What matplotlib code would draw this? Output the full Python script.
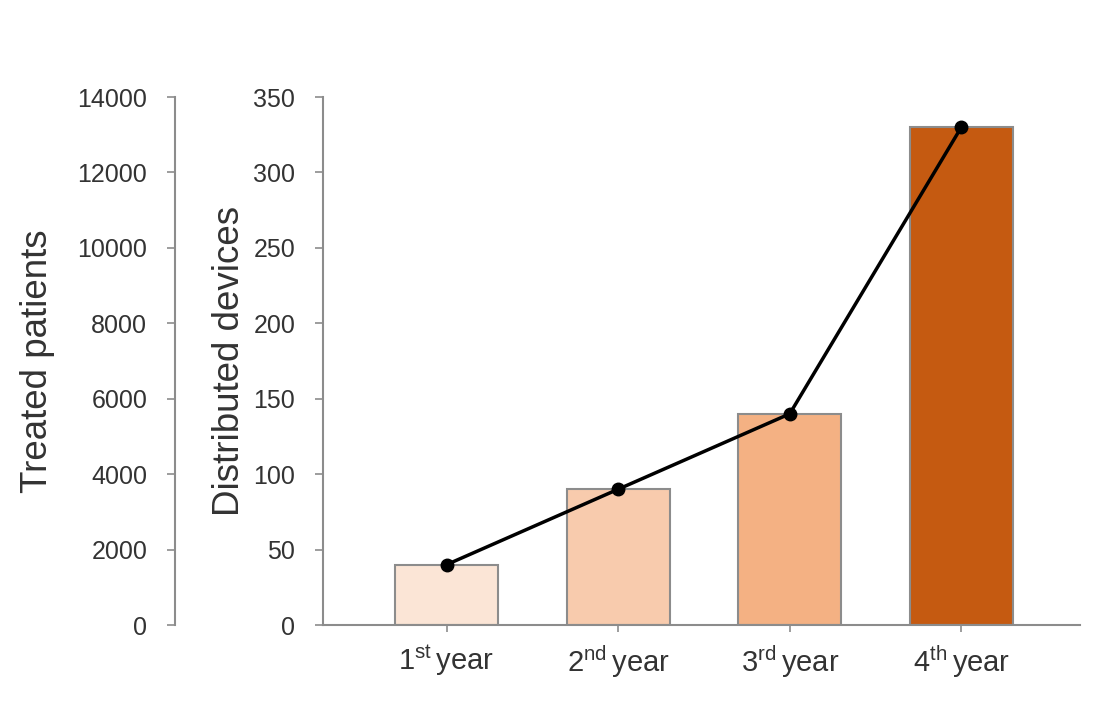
import matplotlib.pyplot as plt
import numpy as np

plt.rcParams['font.family'] = ['Liberation Sans', 'DejaVu Sans']
plt.rcParams['mathtext.fontset'] = 'custom'
plt.rcParams['mathtext.rm'] = 'Liberation Sans'

# data
years = [r'1$^{\mathrm{st}}\,$year', r'2$^{\mathrm{nd}}\,$year',
         r'3$^{\mathrm{rd}}\,$year', r'4$^{\mathrm{th}}\,$year']
devices = [40, 90, 140, 330]
patients = [1600, 3600, 5600, 13200]
bar_colors = ['#FBE5D6', '#F8CBAD', '#F4B183', '#C55A11']

grey = '#8c8c8c'
txt = '#333333'

fig = plt.figure(figsize=(10.94, 7.18), dpi=100)
ax = fig.add_axes([0.2952, 0.1295, 0.6918, 0.7354])
x = np.arange(len(years))

ax.bar(x, devices, width=0.6, color=bar_colors, edgecolor=grey, linewidth=1.5)
ax.set_xlim(-0.72, 3.69)
ax.set_ylim(0, 350)
ax.set_yticks(range(0, 351, 50))
ax.set_xticks(x)
ax.set_xticklabels(years)
ax.set_ylabel('Distributed devices', fontsize=26.5, color=txt)
ax.yaxis.set_label_coords(-0.101, 0.5)

for s in ['top', 'right']:
    ax.spines[s].set_visible(False)
for s in ['left', 'bottom']:
    ax.spines[s].set_color(grey)
    ax.spines[s].set_linewidth(1.5)
ax.tick_params(axis='y', direction='out', length=6, width=1.2, color=grey,
               labelsize=18, labelcolor=txt, pad=14)
ax.tick_params(axis='x', direction='out', length=5, width=1.2, color=grey,
               labelsize=21, labelcolor=txt, pad=8)

# outer axis for treated patients
ax2 = ax.twinx()
ax2.plot(x, patients, color='black', linewidth=2.5, marker='o', markersize=9)
ax2.set_ylim(0, 14000)
ax2.set_yticks(range(0, 14001, 2000))
ax2.spines['left'].set_position(('axes', -0.1955))
ax2.spines['left'].set_visible(True)
ax2.spines['left'].set_color(grey)
ax2.spines['left'].set_linewidth(1.5)
for s in ['top', 'right', 'bottom']:
    ax2.spines[s].set_visible(False)
ax2.yaxis.set_ticks_position('left')
ax2.yaxis.set_label_position('left')
ax2.tick_params(axis='y', direction='out', length=6, width=1.2, color=grey,
                labelsize=18, labelcolor=txt, pad=14)
ax2.set_ylabel('Treated patients', fontsize=26.5, color=txt)
ax2.yaxis.set_label_coords(-0.354, 0.5)

fig.savefig('out.png', dpi=100, facecolor='white')
